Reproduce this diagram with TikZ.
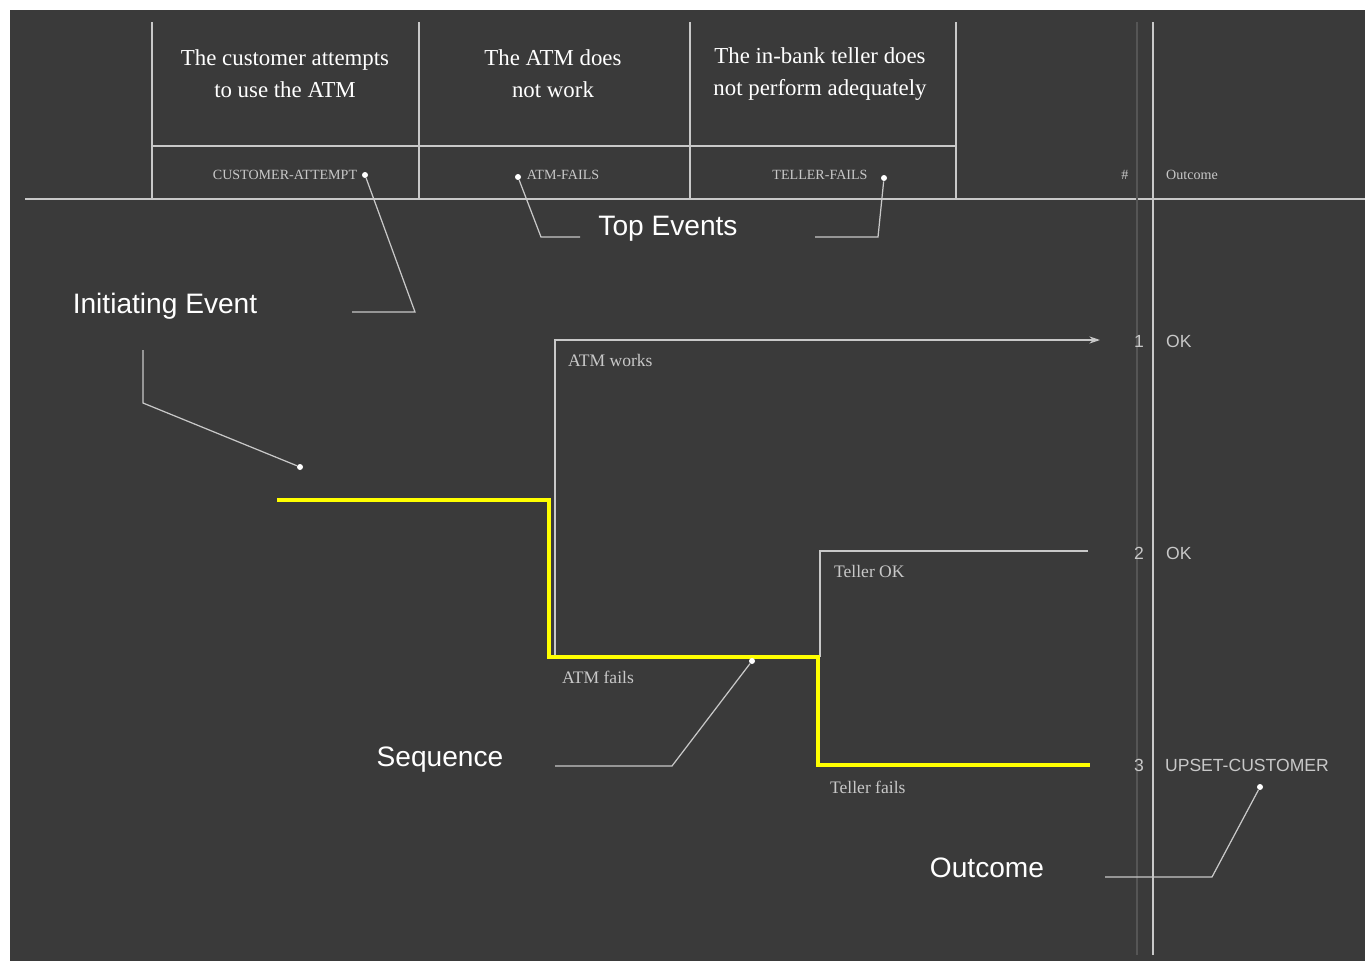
\documentclass[tikz,border=0pt]{standalone}
\usepackage{fontspec}
\setmainfont{Liberation Serif}
\setsansfont{Liberation Sans}
\usetikzlibrary{arrows.meta, positioning, calc}
\definecolor{bgdark}{HTML}{3A3A3A}
\definecolor{linegray}{HTML}{C8C8C8}
\definecolor{faintgray}{HTML}{555555}
\definecolor{pathyellow}{HTML}{FFFF00}
\tikzstyle{headtext} = [align=center, font=\fontsize{13}{18}\selectfont, text=white, inner sep=0pt]
\tikzstyle{eventid} = [font=\fontsize{8}{9}\selectfont, text=linegray, inner sep=1pt]
\tikzstyle{branchlabel} = [anchor=west, font=\fontsize{10}{12}\selectfont, text=linegray, inner sep=1pt]
\tikzstyle{outlabel} = [font=\sffamily\fontsize{10}{12}\selectfont, text=linegray, inner sep=1pt]
\tikzstyle{callout} = [font=\sffamily\fontsize{16}{19}\selectfont, text=white, inner sep=1pt]
\tikzstyle{grid} = [draw=linegray, line width=0.8pt]
\tikzstyle{leader} = [draw=linegray, line width=0.7pt]
\tikzstyle{branch} = [draw=linegray, line width=0.9pt]
\tikzstyle{seqpath} = [draw=pathyellow, line width=2pt]
\tikzstyle{tipdot} = [circle, fill=white, inner sep=0pt, minimum size=1.2mm]

\begin{document}
\begin{tikzpicture}[x=0.2mm, y=-0.2mm]
  \useasboundingbox (0,0) rectangle (1365,961);
  % background
  \fill[white] (0,0) rectangle (1365,961);
  \fill[bgdark] (10,10) rectangle (1365,961);

  % header grid
  \foreach \x in {152,419,690,956}
    \draw[grid] (\x,22) -- (\x,199);
  \draw[grid] (152,146) -- (956,146);
  \draw[grid] (25,199) -- (1365,199);
  \draw[faintgray, line width=0.8pt] (1137,22) -- (1137,955);
  \draw[grid] (1153,22) -- (1153,955);

  % top event descriptions
  \node (h1) [headtext] at (285,74) {The customer attempts\\to use the ATM};
  \node (h2) [headtext] at (553,74) {The ATM does\\not work};
  \node (h3) [headtext] at (820,74) {The in-bank teller does\\not perform adequately};

  % top event ids
  \node (e1) [eventid] at (285,175) {CUSTOMER-ATTEMPT};
  \node (e2) [eventid] at (563,175) {ATM-FAILS};
  \node (e3) [eventid] at (820,175) {TELLER-FAILS};
  \node (nohead) [eventid] at (1125,175) {\#};
  \node (outhead) [eventid] at (1192,175) {Outcome};

  % callouts
  \node (topev) [callout] at (668,229) {Top Events};
  \node (initev) [callout] at (165,306) {Initiating Event};
  \node (seqlab) [callout] at (440,760) {Sequence};
  \node (outlab) [callout] at (987,868) {Outcome};

  % tree points
  \coordinate (start) at (277,500);
  \coordinate (atmdown) at (549,657);
  \coordinate (tellfork) at (818,657);
  \coordinate (atmnode) at (555,657);
  \coordinate (tellnode) at (820,657);
  \coordinate (end1) at (1100,340);
  \coordinate (end2) at (1088,551);
  \coordinate (end3) at (1090,765);

  % branches
  \draw[branch, -{Stealth[length=6pt, width=4pt]}] (atmnode) |- (end1);
  \draw[branch] (tellnode) |- (end2);
  \draw[seqpath] (start) -| (atmdown) -- (tellfork) |- (end3);

  % branch labels
  \node (atmok) [branchlabel] at (566,360) {ATM works};
  \node (atmbad) [branchlabel] at (560,677) {ATM fails};
  \node (tellok) [branchlabel] at (832,571) {Teller OK};
  \node (tellbad) [branchlabel] at (828,787) {Teller fails};

  % outcomes
  \node (n1) [outlabel] at (1139,341) {1};
  \node (o1) [outlabel, anchor=west] at (1164,341) {OK};
  \node (n2) [outlabel] at (1139,553) {2};
  \node (o2) [outlabel, anchor=west] at (1164,553) {OK};
  \node (n3) [outlabel] at (1139,765) {3};
  \node (o3) [outlabel, anchor=west] at (1163,765) {UPSET-CUSTOMER};

  % leader lines
  \node (t1) [tipdot] at (365,175) {};
  \node (t2) [tipdot] at (518,177) {};
  \node (t3) [tipdot] at (884,178) {};
  \node (t4) [tipdot] at (300,467) {};
  \node (t5) [tipdot] at (752,661) {};
  \node (t6) [tipdot] at (1260,787) {};
  \coordinate (b1) at (415,312);
  \coordinate (f1) at (352,312);
  \coordinate (b2) at (541,237);
  \coordinate (f2) at (580,237);
  \coordinate (b3) at (878,237);
  \coordinate (f3) at (815,237);
  \coordinate (b4) at (143,403);
  \coordinate (f4) at (143,350);
  \coordinate (b5) at (672,766);
  \coordinate (f5) at (555,766);
  \coordinate (b6) at (1212,877);
  \coordinate (f6) at (1105,877);
  \draw[leader] (t1) -- (b1) -- (f1);
  \draw[leader] (t2) -- (b2) -- (f2);
  \draw[leader] (t3) -- (b3) -- (f3);
  \draw[leader] (t4) -- (b4) -- (f4);
  \draw[leader] (t5) -- (b5) -- (f5);
  \draw[leader] (t6) -- (b6) -- (f6);
\end{tikzpicture}
\end{document}
